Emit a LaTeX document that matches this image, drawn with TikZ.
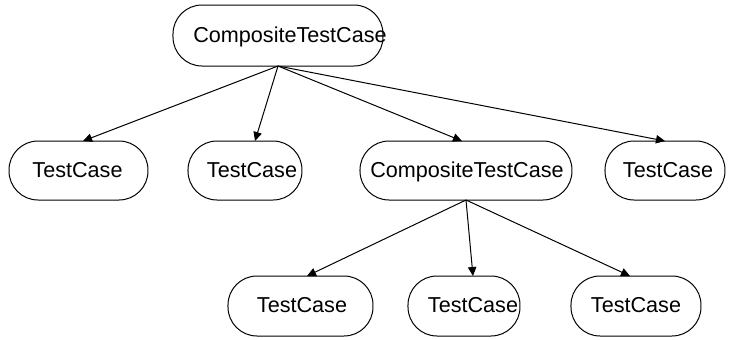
\documentclass[tikz,border=0pt]{standalone}
\usepackage{fontspec}
\setmainfont{Liberation Sans}
\usetikzlibrary{arrows.meta}
\begin{document}
\begin{tikzpicture}[x=0.5pt,y=-0.5pt,
  pill/.style={draw,line width=0.5pt,rounded corners=14.5pt,inner sep=0pt,outer sep=0pt},
  lbl/.style={inner sep=0pt,anchor=base,font=\fontsize{10.8pt}{13pt}\selectfont},
  arr/.style={line width=0.5pt,-{Triangle[length=4.5pt,width=4.2pt]}}]
\useasboundingbox (0,0) rectangle (736,339);
% top
\node[pill,minimum width=105pt,minimum height=30.5pt] (top) at (278,35.5) {};
\node[lbl] (ttop) at (290,42) {CompositeTestCase};
% row 2
\node[pill,minimum width=69.5pt,minimum height=29.5pt] (n1) at (78.5,170.5) {};
\node[pill,minimum width=57pt,minimum height=29.5pt] (n2) at (245,170.5) {};
\node[pill,minimum width=106pt,minimum height=29.5pt] (n3) at (466,170.5) {};
\node[pill,minimum width=60pt,minimum height=29.5pt] (n4) at (665,170.5) {};
\node[lbl] (t1) at (77.5,177) {TestCase};
\node[lbl] (t2) at (252,177) {TestCase};
\node[lbl] (t3) at (467,177) {CompositeTestCase};
\node[lbl] (t4) at (668,177) {TestCase};
% row 3
\node[pill,minimum width=72.5pt,minimum height=30pt] (m1) at (300.5,306) {};
\node[pill,minimum width=56pt,minimum height=30pt] (m2) at (464,306) {};
\node[pill,minimum width=65pt,minimum height=30pt] (m3) at (636,306) {};
\node[lbl] (u1) at (302,312) {TestCase};
\node[lbl] (u2) at (473,312) {TestCase};
\node[lbl] (u3) at (636,312) {TestCase};
% edges
\draw[arr] (top.south) -- ([xshift=2.25pt]n1.north);
\draw[arr] (top.south) -- ([xshift=5pt]n2.north);
\draw[arr] (top.south) -- ([xshift=-2pt]n3.north);
\draw[arr] (top.south) -- (n4.north);
\draw[arr] (n3.south) -- ([xshift=3.25pt]m1.north);
\draw[arr] (n3.south) -- ([xshift=4.5pt]m2.north);
\draw[arr] (n3.south) -- ([xshift=-3pt]m3.north);
\end{tikzpicture}
\end{document}
